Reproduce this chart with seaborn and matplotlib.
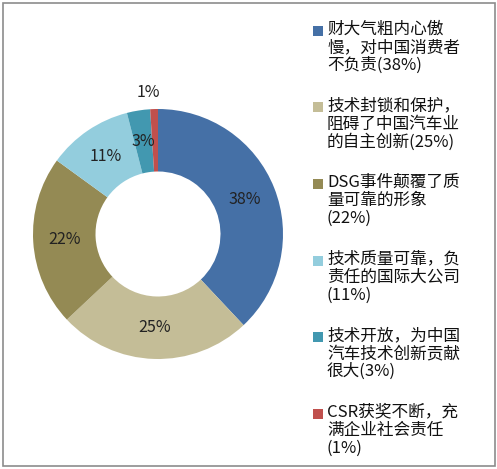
import matplotlib
matplotlib.use("Agg")
import matplotlib.pyplot as plt
from matplotlib.patches import Rectangle
import numpy as np
import seaborn as sns

sns.set_theme(style="white")
plt.rcParams['font.family'] = ['Noto Sans CJK SC', 'DejaVu Sans']

# survey answers, clockwise from 12 o'clock
labels = [
    "财大气粗内心傲\n慢，对中国消费者\n不负责(38%)",
    "技术封锁和保护，\n阻碍了中国汽车业\n的自主创新(25%)",
    "DSG事件颠覆了质\n量可靠的形象\n(22%)",
    "技术质量可靠，负\n责任的国际大公司\n(11%)",
    "技术开放，为中国\n汽车技术创新贡献\n很大(3%)",
    "CSR获奖不断，充\n满企业社会责任\n(1%)",
]
shares = [38, 25, 22, 11, 3, 1]
colors = ["#4570A6", "#C4BD97", "#948A54", "#93CDDD", "#4298B0", "#C0504D"]

fig = plt.figure(figsize=(4.97, 4.69), dpi=100)

# outer frame
fig.patches.append(Rectangle((3 / 497, 3 / 469), 492 / 497, 463 / 469,
                             transform=fig.transFigure, fill=False,
                             edgecolor="#8C8C8C", linewidth=1.2))

ax = fig.add_axes([33 / 497, 110 / 469, 250 / 497, 250 / 469])
wedges, texts = ax.pie(shares, colors=colors, startangle=90, counterclock=False,
                       radius=1.0, wedgeprops=dict(width=0.5, linewidth=0))
ax.set_xlim(-1, 1)
ax.set_ylim(-1, 1)
ax.set_aspect("equal")
ax.axis("off")

# percentage labels in the middle of the ring, the tiny slice pushed outside
for w, s in zip(wedges, shares):
    ang = np.deg2rad((w.theta1 + w.theta2) / 2)
    r = 0.75 if s > 1 else 1.13
    ax.text(r * np.cos(ang) - (0.04 if s == 1 else 0), r * np.sin(ang), f"{s}%",
            ha="center", va="center", fontsize=11.5, color="#222222")

# legend drawn item by item so the square sits on the first line
x_sq, x_txt = 313 / 497, 327 / 497
for i, (lab, c) in enumerate(zip(labels, colors)):
    y_top = 1 - (21 + i * 76.5) / 469
    fig.patches.append(Rectangle((x_sq, y_top - 15 / 469), 10 / 497, 10 / 469,
                                 transform=fig.transFigure, facecolor=c,
                                 edgecolor="none"))
    fig.text(x_txt, y_top, lab, ha="left", va="top", fontsize=12,
             linespacing=1.08, color="#111111")

fig.savefig("out.png", dpi=100)
